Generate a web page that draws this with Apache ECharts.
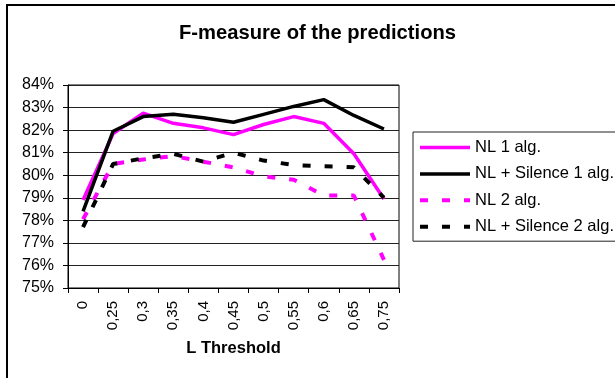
<!DOCTYPE html>
<html>
<head>
<meta charset="utf-8">
<script src="https://cdn.jsdelivr.net/npm/echarts@6/dist/echarts.min.js"></script>
<style>
  html, body { margin: 0; padding: 0; background: #fff; }
  #chart { width: 615px; height: 378px; }
</style>
</head>
<body>
<div id="chart"></div>
<script>
// L threshold values on the category axis
const thresholds = ['0', '0,25', '0,3', '0,35', '0,4', '0,45', '0,5', '0,55', '0,6', '0,65', '0,75'];

// F-measure (%) for each prediction setup
const nl1 = [78.9, 81.85, 82.75, 82.3, 82.1, 81.8, 82.25, 82.6, 82.3, 80.95, 78.95];
const nlSilence1 = [78.4, 81.95, 82.6, 82.7, 82.55, 82.35, 82.7, 83.05, 83.35, 82.65, 82.05];
const nl2 = [78.05, 80.5, 80.7, 80.85, 80.6, 80.35, 79.95, 79.8, 79.1, 79.1, 76.25];
const nlSilence2 = [77.7, 80.5, 80.75, 80.95, 80.6, 81.0, 80.65, 80.45, 80.4, 80.35, 79.0];

const seriesNames = ['NL 1 alg.', 'NL + Silence 1 alg.', 'NL 2 alg.', 'NL + Silence 2 alg.'];
const seriesColors = ['#FF00FF', '#000000', '#FF00FF', '#000000'];
const seriesDashed = [false, false, true, true];

const FONT = '"Liberation Sans", Arial, sans-serif';
const DASH = [8, 14];
const chart = echarts.init(document.getElementById('chart'), null, { renderer: 'canvas' });

function lineSeries(i, data) {
  const dashed = seriesDashed[i];
  return {
    name: seriesNames[i],
    type: 'line',
    data: data,
    symbol: 'none',
    showSymbol: false,
    animation: false,
    lineStyle: {
      color: seriesColors[i],
      width: dashed ? 4 : 3.5,
      type: dashed ? DASH : 'solid',
      cap: 'butt'
    },
    itemStyle: { color: seriesColors[i] }
  };
}

chart.setOption({
  backgroundColor: '#fff',
  animation: false,
  textStyle: { fontFamily: FONT },
  title: {
    text: 'F-measure of the predictions',
    left: 174,
    top: 18,
    textStyle: { fontFamily: FONT, fontSize: 20.2, fontWeight: 'bold', color: '#000' }
  },
  grid: { left: 68, right: 216, top: 85, bottom: 90, containLabel: false,
          show: true, borderColor: '#000', borderWidth: 1, backgroundColor: '#fff' },
  legend: {
    orient: 'vertical',
    left: 413,
    top: 132,
    padding: [7, 6, 6, 5],
    itemWidth: 50,
    itemHeight: 14,
    itemGap: 9.4,
    backgroundColor: '#fff',
    borderColor: '#222',
    borderWidth: 1,
    borderRadius: 0,
    itemStyle: { opacity: 0 },
    textStyle: { fontFamily: FONT, fontSize: 16.5, color: '#000' },
    data: seriesNames.map(function (n, i) {
      return {
        name: n,
        itemStyle: { opacity: 0 },
        lineStyle: {
          color: seriesColors[i],
          width: seriesDashed[i] ? 4 : 3.5,
          type: seriesDashed[i] ? DASH : 'solid'
        }
      };
    })
  },
  xAxis: {
    type: 'category',
    data: thresholds,
    boundaryGap: true,
    name: 'L Threshold',
    nameLocation: 'middle',
    nameGap: 52,
    nameTextStyle: { fontFamily: FONT, fontSize: 16.5, fontWeight: 'bold', color: '#000' },
    axisLine: { lineStyle: { color: '#000', width: 1 } },
    axisTick: { show: true, inside: false, length: 5, alignWithLabel: false, lineStyle: { color: '#000' } },
    axisLabel: { rotate: 90, margin: 13, fontFamily: FONT, fontSize: 15, color: '#000', interval: 0 },
    splitLine: { show: false }
  },
  yAxis: {
    type: 'value',
    min: 75,
    max: 84,
    interval: 1,
    axisLine: { show: true, lineStyle: { color: '#000', width: 1 } },
    axisTick: { show: true, inside: false, length: 5, lineStyle: { color: '#000' } },
    axisLabel: { formatter: '{value}%', margin: 14, fontFamily: FONT, fontSize: 16, color: '#000' },
    splitLine: { show: true, lineStyle: { color: '#222', width: 1 } }
  },
  graphic: [{
    type: 'rect',
    shape: { x: 7, y: 5, width: 700, height: 500 },
    style: { fill: 'none', stroke: '#000', lineWidth: 2 },
    silent: true,
    z: 100
  }],
  series: [
    lineSeries(0, nl1),
    lineSeries(1, nlSilence1),
    lineSeries(2, nl2),
    lineSeries(3, nlSilence2)
  ]
});
</script>
</body>
</html>
